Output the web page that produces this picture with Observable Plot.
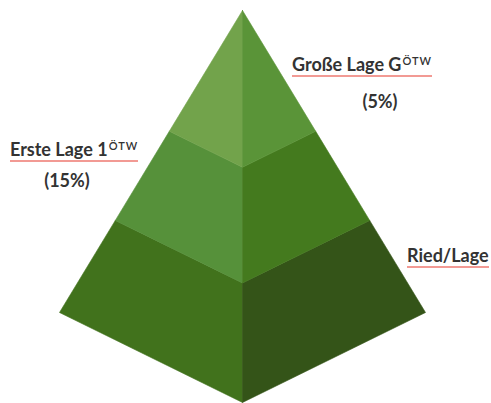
<!DOCTYPE html>
<html>
<head>
<meta charset="utf-8">
<script src="https://cdn.jsdelivr.net/npm/d3@7"></script>
<script src="https://cdn.jsdelivr.net/npm/@observablehq/plot@0.6"></script>
<style>
  body { margin: 0; background: #fff; }
  #wrap { position: relative; width: 491px; height: 403px; }
  .lbl { position: absolute; font-family: Lato, sans-serif; font-weight: bold; font-size: 18px; color: #333; line-height: 20px; white-space: nowrap; }
  .name { border-bottom: 2px solid #f29a94; padding-bottom: 1px; }
  .name sup { font-size: 11px; font-weight: 600; letter-spacing: 1px; vertical-align: top; position: relative; top: -3px; margin-left: 1px; }
  .share { transform: translateX(-50%); }
</style>
</head>
<body>
<div id="wrap"></div>
<script>
// Tiers from bottom to top
const tiers = ["Ried/Lage", "Erste Lage 1", "Große Lage G"];
const superscripts = ["", "ÖTW", "ÖTW"];
const shares = ["", "(15%)", "(5%)"];
// tier boundaries as fraction of the distance from apex toward the base
const tierTop = [0.695, 0.40, 0];
const tierBottom = [1, 0.695, 0.40];
const leftColors = ["#41721c", "#56913a", "#72a34b"];
const rightColors = ["#345418", "#447a1e", "#5a9438"];

// pyramid model (apex, base corners, front corner)
const apex = [0, 1], baseLeft = [-1, 0], baseRight = [1, 0], baseFront = [0, -0.298];
const lerp = (p, t) => [apex[0] + (p[0] - apex[0]) * t, apex[1] + (p[1] - apex[1]) * t];

const pts = [];
tiers.forEach((name, i) => {
  const faces = [["L", baseLeft, leftColors[i]], ["R", baseRight, rightColors[i]]];
  for (const [side, corner, color] of faces) {
    const poly = [lerp(corner, tierTop[i]), lerp(baseFront, tierTop[i]), lerp(baseFront, tierBottom[i]), lerp(corner, tierBottom[i])];
    poly.push(poly[0]);
    poly.forEach(([x, y]) => pts.push({face: name + side, x, y, color}));
  }
});

const plot = Plot.plot({
  width: 491, height: 403,
  marginLeft: 59, marginRight: 66, marginTop: 10, marginBottom: 1,
  x: {domain: [-1, 1], axis: null},
  y: {domain: [baseFront[1], 1], axis: null},
  color: {type: "identity"},
  marks: [
    Plot.line(pts, {x: "x", y: "y", z: "face", fill: "color", stroke: "color", strokeWidth: 0.6, curve: "linear"})
  ]
});
const wrap = document.getElementById("wrap");
wrap.appendChild(plot);

// label layout (pixel positions of the annotations)
const nameLayout = [{left: 407, top: 245}, {left: 10, top: 139}, {left: 292, top: 54}];
const shareLayout = [null, {cx: 67, top: 170}, {cx: 380, top: 91}];
tiers.forEach((name, i) => {
  const d = document.createElement("div");
  d.className = "lbl name";
  d.style.left = nameLayout[i].left + "px";
  d.style.top = nameLayout[i].top + "px";
  d.textContent = name;
  if (superscripts[i]) {
    const s = document.createElement("sup");
    s.textContent = superscripts[i];
    d.appendChild(s);
  }
  wrap.appendChild(d);
  if (shares[i]) {
    const p = document.createElement("div");
    p.className = "lbl share";
    p.style.left = shareLayout[i].cx + "px";
    p.style.top = shareLayout[i].top + "px";
    p.textContent = shares[i];
    wrap.appendChild(p);
  }
});
</script>
</body>
</html>
